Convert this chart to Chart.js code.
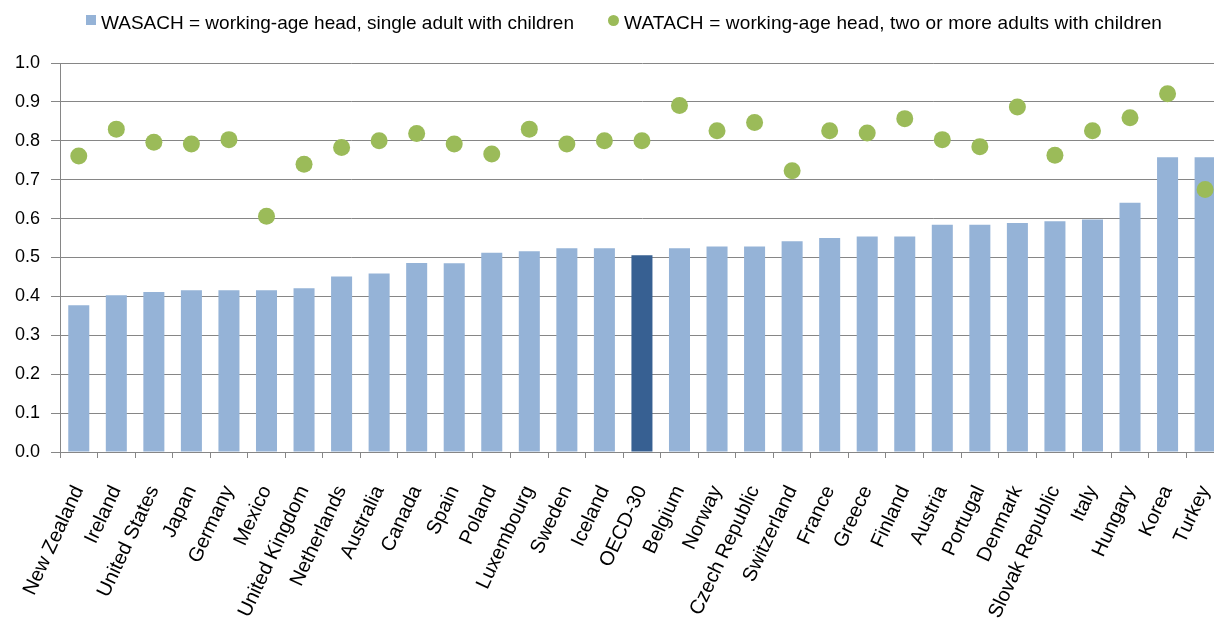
<!DOCTYPE html>
<html>
<head>
<meta charset="utf-8">
<script src="https://cdn.jsdelivr.net/npm/chart.js@4/dist/chart.umd.min.js"></script>
<style>
  html, body { margin: 0; padding: 0; background: #fff; overflow: hidden; }
  #wrap { position: relative; width: 1251px; height: 622px; }
  .leg { position: absolute; top: 13px; font: 19px "Liberation Sans", Arial, sans-serif; line-height: 19px; color: #000; white-space: nowrap; }
  .mk { position: absolute; }
</style>
</head>
<body>
<div id="wrap">
  <span class="mk" style="left:86px;top:15px;width:10px;height:10px;background:#95B3D7"></span>
  <span class="leg" style="left:101px">WASACH = working-age head, single adult with children</span>
  <span class="mk" style="left:608px;top:15px;width:11px;height:11px;border-radius:50%;background:#9BBB59"></span>
  <span class="leg" style="left:624px;letter-spacing:0.15px">WATACH = working-age head, two or more adults with children</span>
  <canvas id="chart"></canvas>
</div>
<script>
(function () {
    "use strict";

    const countries = [
        "New Zealand", "Ireland", "United States", "Japan", "Germany", "Mexico",
        "United Kingdom", "Netherlands", "Australia", "Canada", "Spain", "Poland",
        "Luxembourg", "Sweden", "Iceland", "OECD-30", "Belgium", "Norway",
        "Czech Republic", "Switzerland", "France", "Greece", "Finland", "Austria",
        "Portugal", "Denmark", "Slovak Republic", "Italy", "Hungary", "Korea", "Turkey",
    ];
    // WASACH: single adult with children
    const wasach = [
        0.377, 0.403, 0.411, 0.416, 0.416, 0.416, 0.421, 0.451, 0.459, 0.486, 0.485,
        0.512, 0.516, 0.524, 0.524, 0.506, 0.524, 0.528, 0.528, 0.542, 0.550, 0.554,
        0.554, 0.584, 0.584, 0.589, 0.593, 0.598, 0.641, 0.758, 0.758,
    ];
    // WATACH: two or more adults with children
    const watach = [
        0.761, 0.830, 0.796, 0.792, 0.803, 0.606, 0.740, 0.783, 0.800, 0.819, 0.792,
        0.766, 0.830, 0.792, 0.800, 0.800, 0.891, 0.826, 0.847, 0.723, 0.826, 0.820,
        0.857, 0.803, 0.785, 0.887, 0.763, 0.826, 0.859, 0.921, 0.675,
    ];

    const gridColor = "#868686";
    const font = "'Liberation Sans', Arial, sans-serif";

    const barColors = countries.map((c) => (c === "OECD-30" ? "#376092" : "#95B3D7"));

    const ctx = document.getElementById("chart").getContext("2d");
    new Chart(ctx, {
        type: "bar",
        data: {
            labels: countries,
            datasets: [
                {
                    type: "line",
                    label: "WATACH",
                    data: watach,
                    showLine: false,
                    pointRadius: 8.5,
                    pointHoverRadius: 8.5,
                    pointBorderWidth: 0,
                    pointBackgroundColor: "#9BBB59",
                    order: 1,
                },
                {
                    label: "WASACH",
                    data: wasach,
                    backgroundColor: barColors,
                    categoryPercentage: 1,
                    barPercentage: 0.56,
                    order: 2,
                },
            ],
        },
        options: {
            responsive: true,
            maintainAspectRatio: false,
            animation: false,
            layout: { padding: { top: 63, left: 0, right: 0, bottom: 0 } },
            plugins: {
                legend: { display: false },
                tooltip: { enabled: false },
            },
            scales: {
                x: {
                    grid: { drawOnChartArea: false, color: gridColor, tickLength: 6 },
                    border: { color: gridColor },
                    ticks: {
                        autoSkip: false,
                        minRotation: 65,
                        maxRotation: 65,
                        padding: 24,
                        color: "#000",
                        font: { family: font, size: 20 },
                    },
                    afterFit: (s) => { s.height = 170; },
                },
                y: {
                    min: 0,
                    max: 1,
                    ticks: {
                        stepSize: 0.1,
                        padding: 11,
                        color: "#000",
                        font: { family: font, size: 18 },
                        callback: (v) => v.toFixed(1),
                    },
                    grid: { color: gridColor, tickLength: 9 },
                    border: { color: gridColor },
                    afterFit: (s) => { s.width = 60; },
                },
            },
        },
    });
})();
</script>
</body>
</html>
